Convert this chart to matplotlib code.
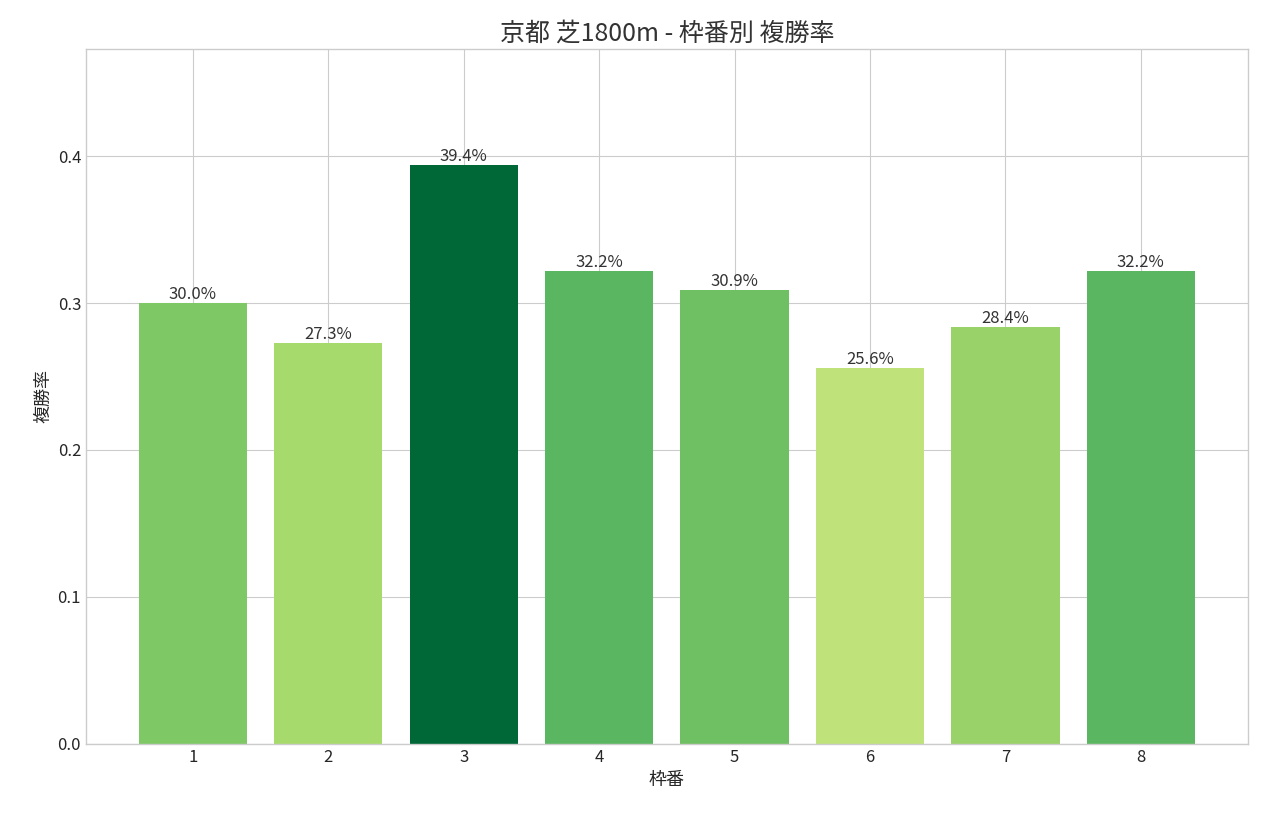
import matplotlib
matplotlib.use("Agg")
import matplotlib.pyplot as plt

# data
waku = ["1", "2", "3", "4", "5", "6", "7", "8"]
rates = [0.300, 0.273, 0.394, 0.322, 0.309, 0.256, 0.284, 0.322]
bar_colors = ["#7fc866", "#a7da6c", "#006837", "#5ab660",
              "#6fc063", "#bfe37a", "#98d268", "#5ab660"]

plt.style.use("seaborn-v0_8-whitegrid")
plt.rcParams["font.family"] = ["Noto Sans CJK JP", "DejaVu Sans"]

fig, ax = plt.subplots(figsize=(12.63, 8.19), dpi=100)
bars = ax.bar(waku, rates, color=bar_colors, width=0.8)
for b, r in zip(bars, rates):
    ax.text(b.get_x() + b.get_width() / 2, r, f"{r*100:.1f}%",
            ha="center", va="bottom", fontsize=12, color="#333333")

ax.set_ylim(0, 0.473)
ax.set_title("京都 芝1800m - 枠番別 複勝率", fontsize=18, color="#333333")
ax.set_xlabel("枠番", fontsize=13)
ax.set_ylabel("複勝率", fontsize=13)
ax.tick_params(labelsize=12)
for s in ax.spines.values():
    s.set_visible(True)
    s.set_color("#cccccc")

fig.subplots_adjust(left=0.068, right=0.988, top=0.94, bottom=0.092)
fig.savefig("out.png", dpi=100)
